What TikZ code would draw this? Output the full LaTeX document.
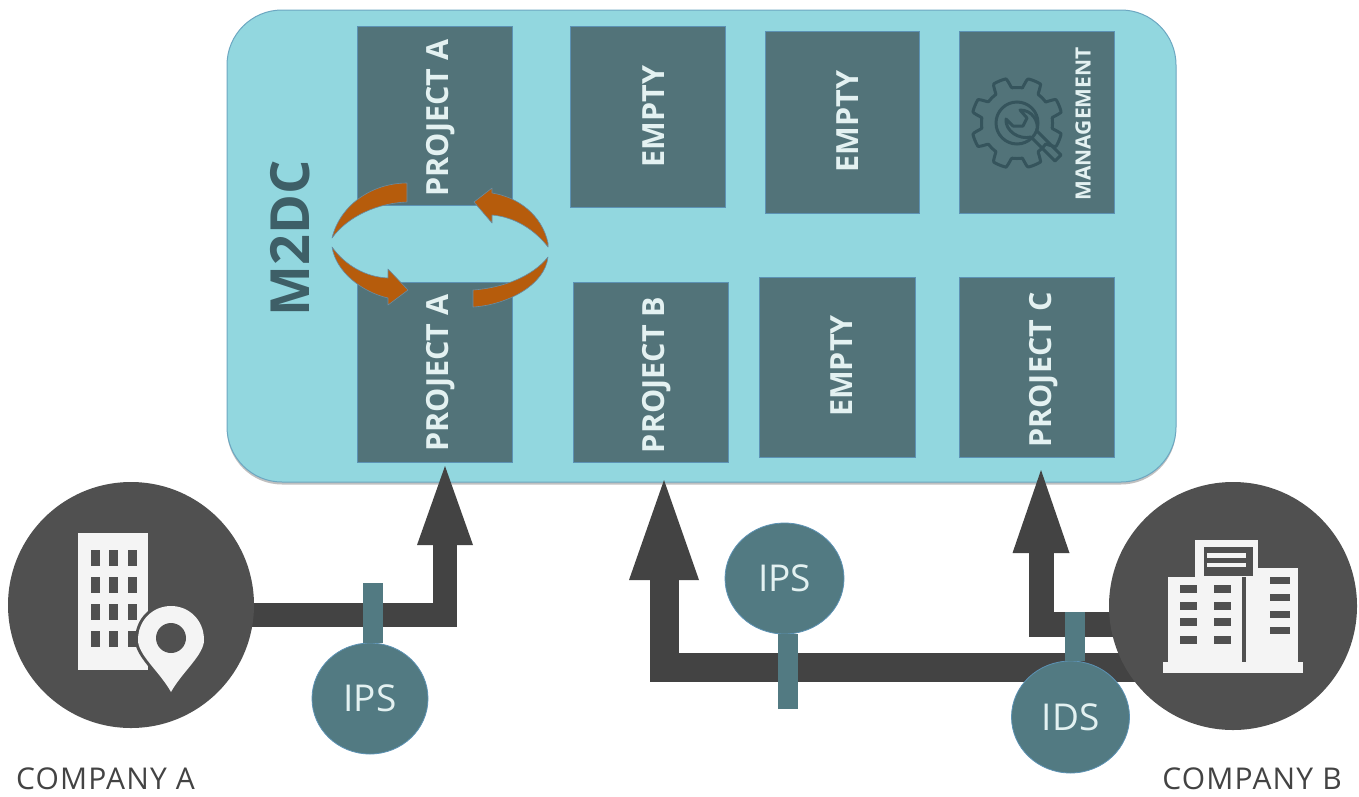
\documentclass[tikz,border=0pt]{standalone}
\usepackage{fontspec}
\setmainfont{Open Sans}
\usetikzlibrary{arrows.meta,shapes.geometric,shadows}
\definecolor{panelc}{HTML}{92D7DF}
\definecolor{boxc}{HTML}{527379}
\definecolor{edgec}{HTML}{5C92B4}
\definecolor{darkc}{HTML}{505050}
\definecolor{pipec}{HTML}{434343}
\definecolor{tealc}{HTML}{527A82}
\definecolor{whitec}{HTML}{F4F4F4}
\definecolor{txtc}{HTML}{E3F1F1}
\definecolor{gearc}{HTML}{35545C}
\definecolor{orangec}{HTML}{B65C0C}
\tikzset{
  panelbox/.style={draw=edgec!70!panelc,line width=1pt,fill=panelc,rounded corners=55pt,
    drop shadow={shadow xshift=0pt,shadow yshift=-2.5pt,fill=black!55,opacity=.45}},
  cell/.style={rectangle,fill=boxc,draw=edgec,line width=.8pt,inner sep=0pt},
  celltext/.style={text=txtc,font=\bfseries\fontsize{30.5}{30.5}\selectfont,rotate=90,inner sep=0pt},
  site/.style={circle,fill=darkc,inner sep=0pt,minimum size=246pt},
  guard/.style={ellipse,fill=tealc,draw=edgec,line width=.8pt,inner sep=0pt,text=txtc,
    font=\fontsize{37}{37}\selectfont},
  sitetext/.style={text=pipec,font=\fontsize{30}{30}\selectfont\addfontfeature{LetterSpace=4},inner sep=0pt,anchor=base,text depth=0pt},
  stem/.style={draw=tealc,line width=20pt},
  swirl/.style={fill=orangec,draw=edgec!70!gray,line width=.6pt,line join=round},
}
\newcommand{\cellat}[5]{\node[cell,minimum width=#4pt,minimum height=#5pt] (#1) at (#2,#3) {};}
\begin{document}
\begin{tikzpicture}[x=1pt,y=-1pt]
\useasboundingbox (0,0) rectangle (1359,796);
% panel
\path[panelbox] (227,10) rectangle (1176,482);
% cells
\cellat{pa1}{434.5}{115.5}{155}{179}
\cellat{pa2}{434.5}{372}{155}{180}
\cellat{e1}{647.5}{116.5}{155}{181}
\cellat{e2}{842}{122}{154}{182}
\cellat{mg}{1036.5}{122}{155}{182}
\cellat{pb}{650.5}{372}{155}{180}
\cellat{e3}{837}{367}{156}{180}
\cellat{pc}{1036.5}{367}{155}{180}
\node[celltext] (tpa1) at (441,118) {PROJECT A};
\node[celltext] (tpa2) at (441,373) {PROJECT A};
\node[celltext] (tpb) at (657,375) {PROJECT B};
\node[celltext] (te1) at (654,116.5) {EMPTY};
\node[celltext] (te2) at (848,121.5) {EMPTY};
\node[celltext] (te3) at (842,366) {EMPTY};
\node[celltext] (tpc) at (1044,370) {PROJECT C};
\node[celltext,font=\bfseries\fontsize{21}{21}\selectfont] (tmg) at (1083,124) {MANAGEMENT};
\node[rotate=90,inner sep=0pt,text=gearc!70!tealc,font=\bfseries\fontsize{54}{54}\selectfont] (m2dc) at (290,238) {M2DC};
% gear icon
\draw[gearc,line width=3pt,line join=round]
  plot[domain=0:360,samples=240,smooth cycle] ({1017+(40.5+5*max(-1,min(1,-3*cos(8*\x))))*cos(\x)},{123+(40.5+5*max(-1,min(1,-3*cos(8*\x))))*sin(\x)});
\draw[gearc,line width=3pt] (1017,123) circle[radius=21];
\draw[gearc,line width=3pt,line join=round]
  (1031,137) -- (1055,161) -- (1061,155) -- (1037,131)
  .. controls (1039,121) and (1032,110) .. (1020,110)
  -- (1027,118) -- (1023,126) -- (1013,126) -- (1006,119)
  .. controls (1005,131) and (1019,140) .. (1031,137);
% swirl arrows
\path[swirl] (407,183) .. controls (372,183) and (340,205) .. (332,238)
  .. controls (348,216) and (378,203) .. (407,202) -- cycle;
\path[swirl] (332,247) .. controls (336,272) and (362,292) .. (388,298)
  -- (388,305) -- (408,290) -- (388,269) -- (388,278)
  .. controls (365,277) and (345,265) .. (332,247) -- cycle;
\path[swirl] (548,243) .. controls (542,215) and (518,197) .. (492,193)
  -- (492,188) -- (474,202) -- (492,223) -- (492,215)
  .. controls (515,217) and (535,230) .. (548,247) -- cycle;
\path[swirl] (473,290) .. controls (502,288) and (532,277) .. (548,257)
  .. controls (545,285) and (507,305) .. (473,307) -- cycle;
% targets and taps
\coordinate (tipA) at (445,466);
\coordinate (tipB) at (664,480);
\coordinate (tipC) at (1041,470);
\coordinate (tap1) at (373,583);
\coordinate (tap2) at (788,709);
\coordinate (tap3) at (1075,612);
\coordinate (feedA) at (200,615);
\coordinate (feedB) at (1150,667.5);
\coordinate (feedC) at (1150,624.5);
% connectors
\draw[pipec,line width=24pt,-{Triangle[width=56pt,length=79pt,line width=0pt]}] (feedA) -| (tipA);
\draw[pipec,line width=29pt,-{Triangle[width=70pt,length=100pt,line width=0pt]}] (feedB) -| (tipB);
\draw[pipec,line width=25pt,-{Triangle[width=57pt,length=83pt,line width=0pt]}] (feedC) -| (tipC);
% sites
\node[site] (ca) at (131,605) {};
\node[site,minimum size=248pt] (cb) at (1233,606) {};
% company A icon
\fill[whitec] (78,533) rectangle (148,670);
\foreach \wx in {91,109,128}\foreach \wy in {550,577,604,631}
  \fill[darkc] (\wx,\wy) rectangle ++(9,15.5);
\path[fill=whitec,draw=darkc,line width=6pt]
  (171,692) .. controls (160,672) and (138,655) .. (138,640)
  .. controls (138,620) and (153,606) .. (171,606)
  .. controls (189,606) and (204,620) .. (204,640)
  .. controls (204,655) and (182,672) .. (171,692) -- cycle;
\fill[whitec] (171,692) .. controls (160,672) and (138,655) .. (138,640)
  .. controls (138,620) and (153,606) .. (171,606)
  .. controls (189,606) and (204,620) .. (204,640)
  .. controls (204,655) and (182,672) .. (171,692) -- cycle;
\fill[darkc] (171,638) circle[radius=15];
% company B icon
\fill[whitec] (1163,662) rectangle (1303,673);
\fill[whitec] (1168,577) rectangle (1242,663);
\fill[whitec] (1246,568) rectangle (1298,663);
\fill[whitec] (1195,540) rectangle (1258,577);
\fill[darkc] (1204,547) rectangle (1253,576);
\fill[whitec] (1207,553) rectangle (1246,558);
\fill[whitec] (1207,563) rectangle (1246,567);
\foreach \wx in {1180,1214}\foreach \wy in {585,602,618,636}
  \fill[darkc] (\wx,\wy) rectangle ++(17,8);
\foreach \wy in {577,594,611,627}
  \fill[darkc] (1270,\wy) rectangle ++(20,7);
% guards
\node[guard,minimum width=116pt,minimum height=111pt] (ips1) at (370,698.5) {IPS};
\node[guard,minimum width=119pt,minimum height=111pt] (ips2) at (784.5,578.5) {IPS};
\node[guard,minimum width=118pt,minimum height=112pt] (ids) at (1070.5,717) {IDS};
\draw[stem] (tap1) -- (ips1.north -| tap1);
\draw[stem] (tap2) -- (ips2.south -| tap2);
\draw[stem] (tap3) -- (ids.north -| tap3);
% captions
\node[sitetext] (la) at (105.5,789) {COMPANY A};
\node[sitetext] (lb) at (1252,789) {COMPANY B};
\end{tikzpicture}
\end{document}
